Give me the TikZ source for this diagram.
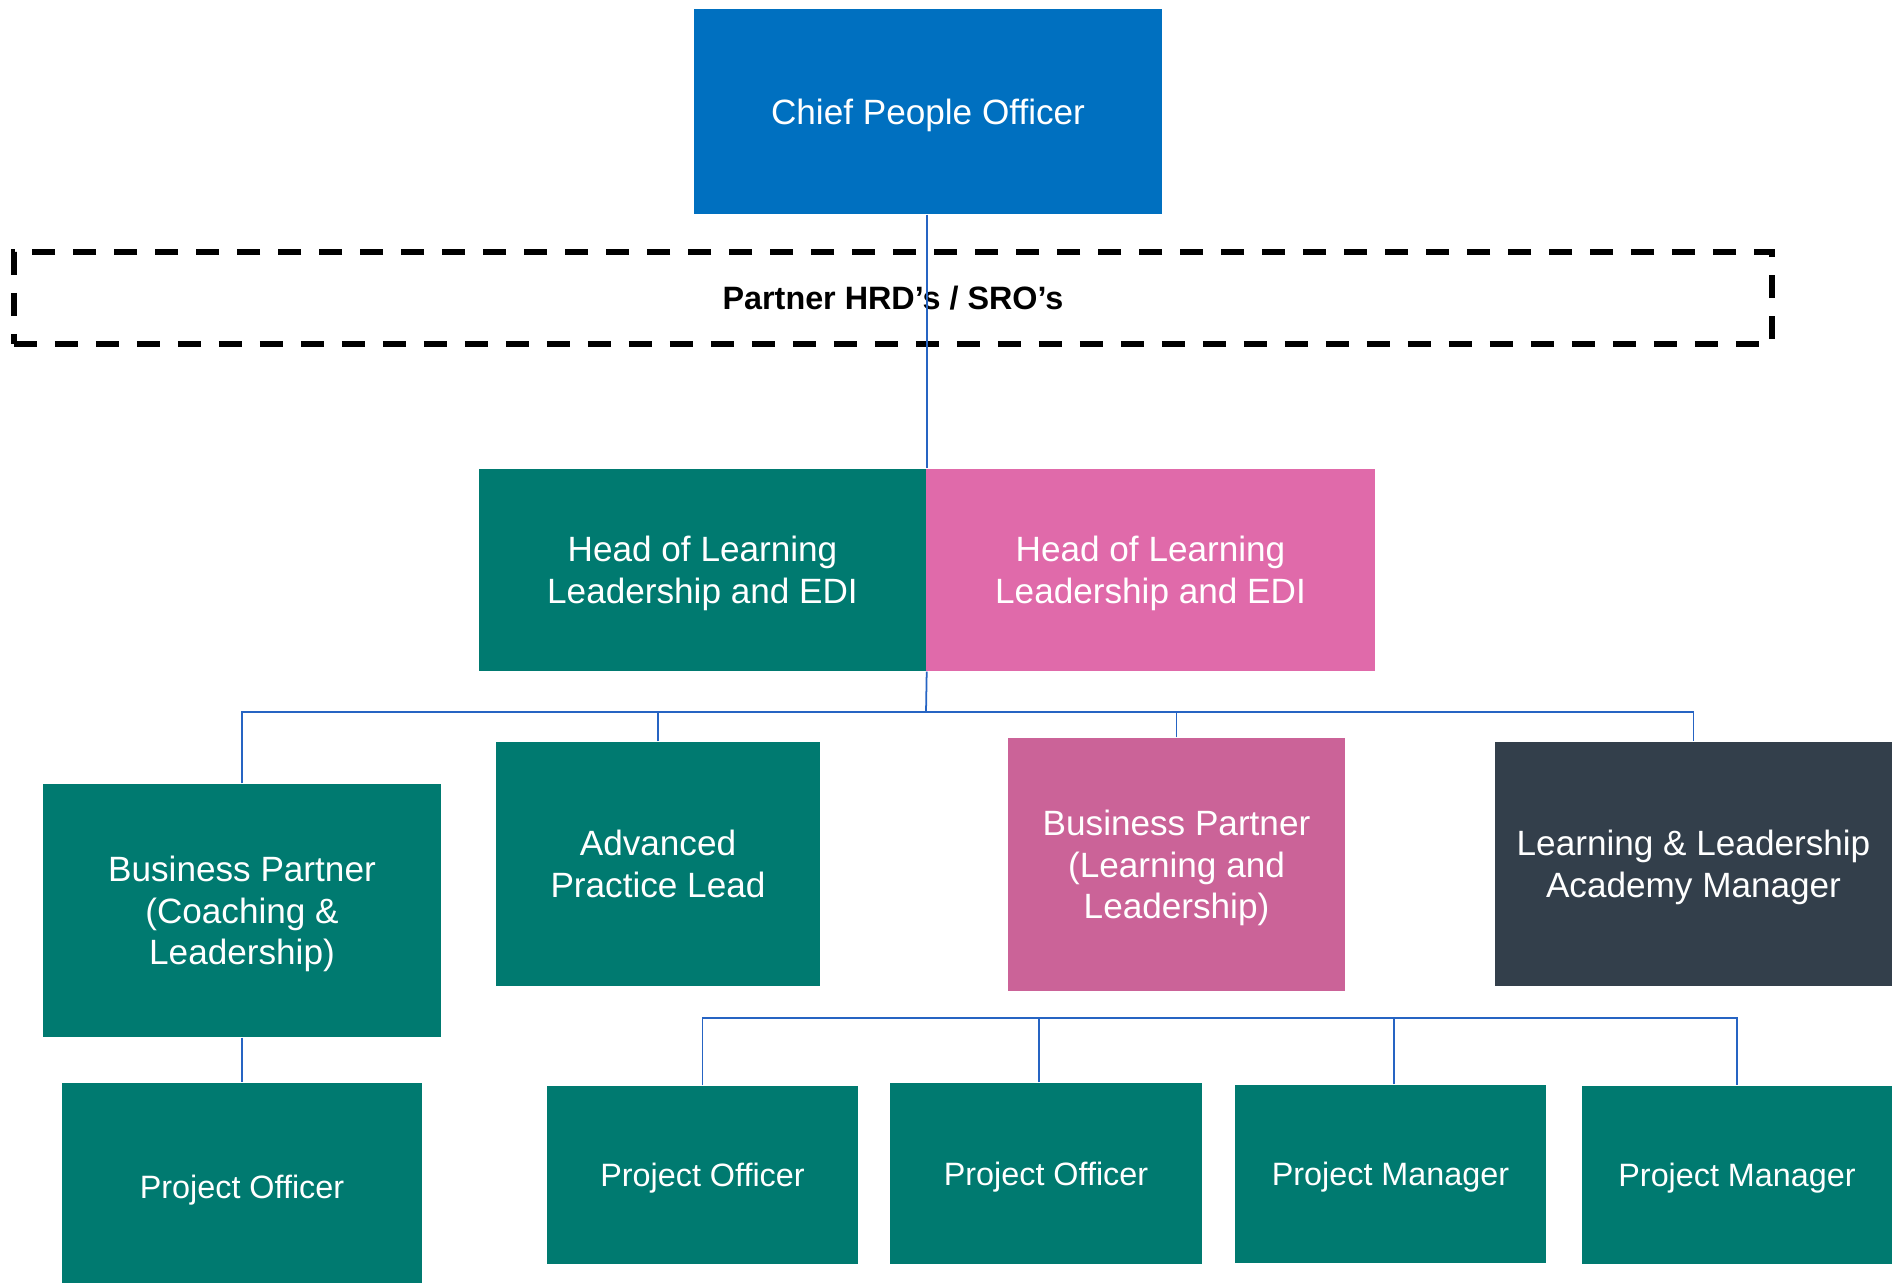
\documentclass[tikz,border=0pt]{standalone}
\usepackage{fontspec}
\setmainfont{Liberation Sans}
\usepackage{xcolor}
\usepackage{tikz}
\usetikzlibrary{positioning, calc}
\definecolor{chiefblue}{RGB}{0,112,192}
\definecolor{tealgreen}{RGB}{0,122,112}
\definecolor{headpink}{RGB}{224,106,170}
\definecolor{bppink}{RGB}{203,99,152}
\definecolor{slate}{RGB}{51,63,75}
\definecolor{linkblue}{RGB}{38,100,195}
\tikzset{
  box/.style={
    fill=tealgreen,
    text=white,
    align=center,
    inner sep=0pt,
    text depth=0pt,
    font=\fontsize{10}{11.8}\selectfont
  },
  projbox/.style={
    box,
    font=\fontsize{9.2}{11}\selectfont
  },
  dashbox/.style={
    draw=black,
    line width=1.7pt,
    dash pattern=on 0.23cm off 0.18cm,
    inner sep=0pt,
    font=\fontsize{9.2}{11}\selectfont\bfseries
  },
  link/.style={draw=linkblue, line width=0.5pt}
}

\begin{document}
\begin{tikzpicture}[x=1cm, y=1cm]
\useasboundingbox (0,0) rectangle (18.92,-12.83);

\node[box, fill=chiefblue, minimum width=4.68cm, minimum height=2.05cm] (chief) at (9.28,-1.115)
{Chief People Officer};

\node[dashbox, minimum width=17.58cm, minimum height=0.92cm] (partner) at (8.93,-2.98)
{Partner HRD’s / SRO’s};

\node[box, minimum width=4.47cm, minimum height=2.02cm] (headL) at (7.025,-5.70)
{Head of Learning\\Leadership and EDI};

\node[box, fill=headpink, minimum width=4.49cm, minimum height=2.02cm] (headR) at (11.505,-5.70)
{Head of Learning\\Leadership and EDI};

\node[box, minimum width=3.98cm, minimum height=2.53cm] (bpc) at (2.42,-9.105)
{Business Partner\\(Coaching \&\\Leadership)};

\node[box, minimum width=3.24cm, minimum height=2.44cm] (apl) at (6.58,-8.64)
{Advanced\\Practice Lead};

\node[box, fill=bppink, minimum width=3.37cm, minimum height=2.53cm] (bpl) at (11.765,-8.645)
{Business Partner\\(Learning and\\Leadership)};

\node[box, fill=slate, minimum width=3.97cm, minimum height=2.44cm] (acad) at (16.935,-8.64)
{Learning \& Leadership\\Academy Manager};

\node[projbox, minimum width=3.60cm, minimum height=2.08cm] (po0) at (2.42,-11.87)
{Project Officer};

\node[projbox, minimum width=3.11cm, minimum height=1.78cm] (po1) at (7.025,-11.75)
{Project Officer};

\node[projbox, minimum width=3.12cm, minimum height=1.81cm] (po2) at (10.46,-11.735)
{Project Officer};

\node[projbox, minimum width=3.11cm, minimum height=1.78cm] (pm1) at (13.905,-11.74)
{Project Manager};

\node[projbox, minimum width=3.10cm, minimum height=1.78cm] (pm2) at (17.37,-11.75)
{Project Manager};

\coordinate (hub) at (9.26,-7.12);
\coordinate (hub2) at (7.01,-10.18);

\draw[link] (chief.south -| headL.north east) -- (headL.north east);
\draw[link] (headL.south east) -- (hub);
\draw[link] (bpc.north) |- (acad.north |- hub) -- (acad.north);
\draw[link] (apl.north) -- (apl.north |- hub);
\draw[link] (bpl.north) -- (bpl.north |- hub);
\draw[link] (bpc.south) -- (po0.north);
\draw[link] (po1.north) |- (pm2.north |- hub2) -- (pm2.north);
\draw[link] ([xshift=-0.07cm]po2.north) -- ([xshift=-0.07cm]po2.north |- hub2);
\draw[link] ([xshift=0.035cm]pm1.north) -- ([xshift=0.035cm]pm1.north |- hub2);

\end{tikzpicture}
\end{document}
